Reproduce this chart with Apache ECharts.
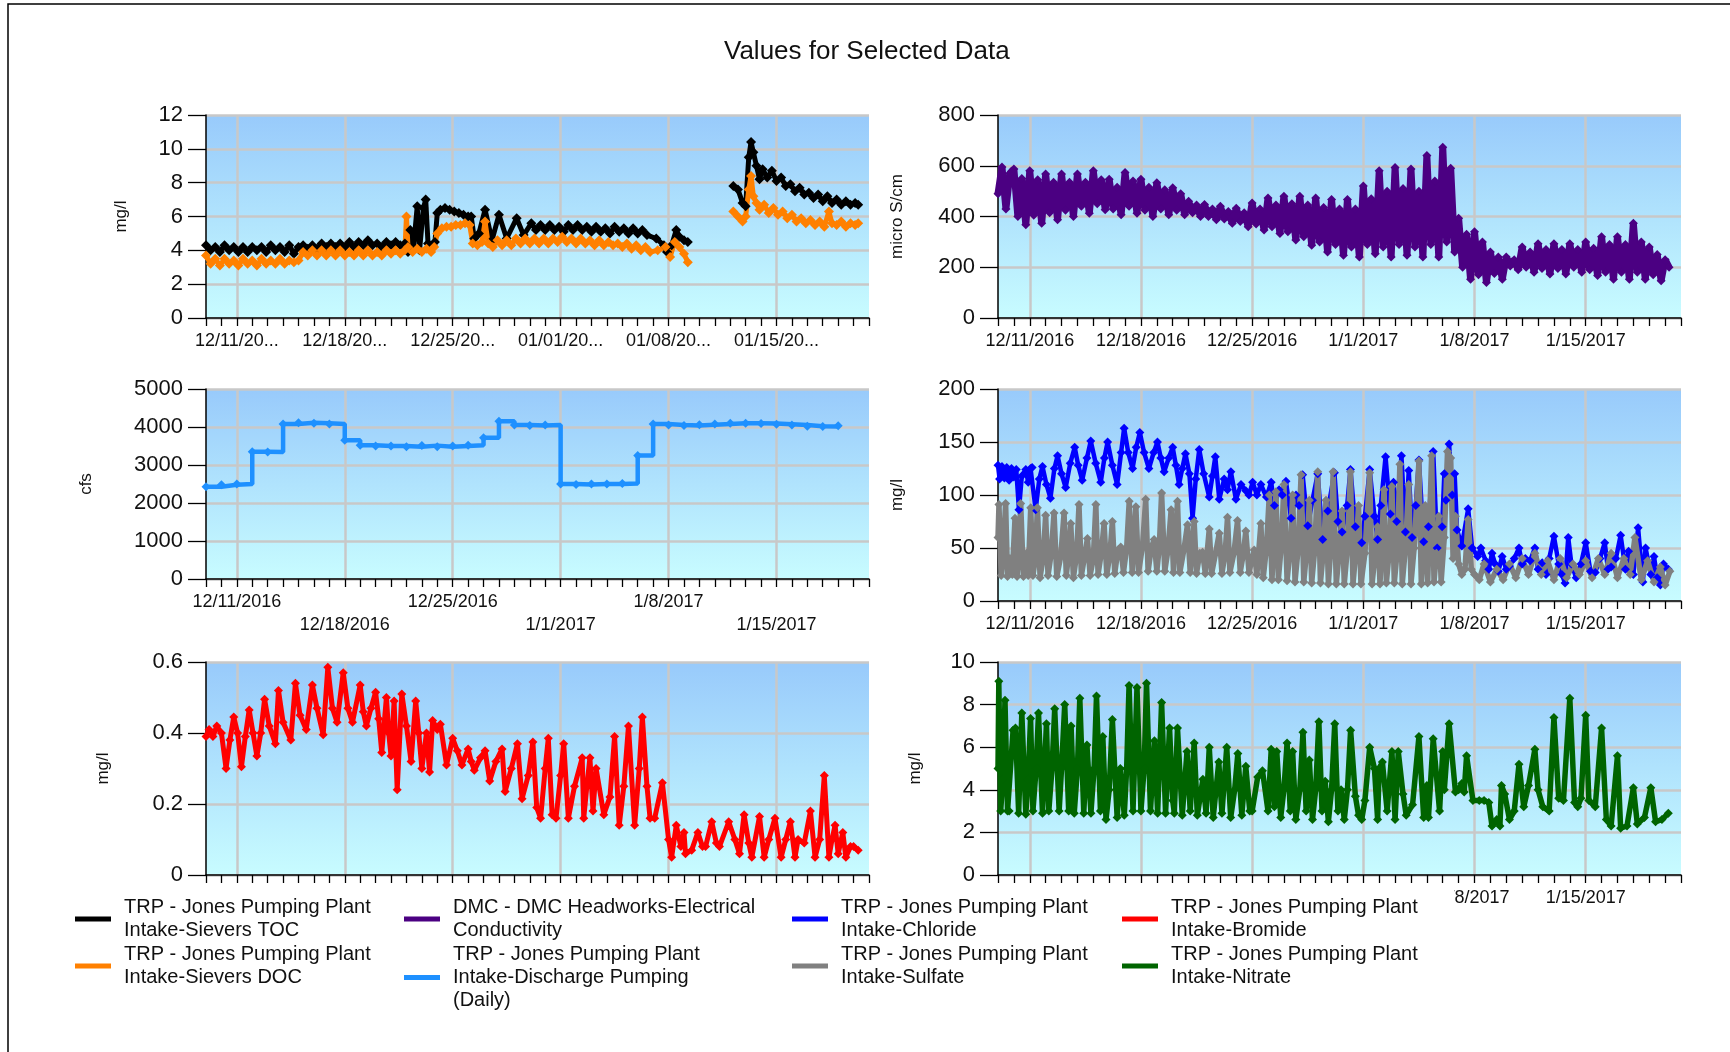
<!DOCTYPE html>
<html><head><meta charset="utf-8">
<script src="https://cdn.jsdelivr.net/npm/echarts@6/dist/echarts.min.js"></script>
<style>html,body{margin:0;padding:0;background:#fff}#c{width:1730px;height:1052px}</style>
</head><body><div id="c"></div><script>
// x values are days since 12/9/2016 00:00
const weekTicks = [2, 9, 16, 23, 30, 37];
const weekLabels = ['12/11/2016','12/18/2016','12/25/2016','1/1/2017','1/8/2017','1/15/2017'];
const weekLabelsShort = ['12/11/20...','12/18/20...','12/25/20...','01/01/20...','01/08/20...','01/15/20...'];

const nameTOC = 'TRP - Jones Pumping Plant\nIntake-Sievers TOC';
const nameDOC = 'TRP - Jones Pumping Plant\nIntake-Sievers DOC';
const nameEC  = 'DMC - DMC Headworks-Electrical\nConductivity';
const nameCFS = 'TRP - Jones Pumping Plant\nIntake-Discharge Pumping\n(Daily)';
const nameCL  = 'TRP - Jones Pumping Plant\nIntake-Chloride';
const nameSO4 = 'TRP - Jones Pumping Plant\nIntake-Sulfate';
const nameBR  = 'TRP - Jones Pumping Plant\nIntake-Bromide';
const nameNO3 = 'TRP - Jones Pumping Plant\nIntake-Nitrate';

const tocData = [[0,4.3],[0.3,4.0],[0.6,4.2],[0.9,3.9],[1.2,4.3],[1.5,4.0],[1.8,4.2],[2.1,3.9],[2.4,4.2],[2.7,3.9],[3.0,4.2],[3.3,4.0],[3.6,4.2],[3.9,3.9],[4.2,4.3],[4.5,4.0],[4.8,4.2],[5.1,3.9],[5.4,4.3],[5.7,3.8],[6.0,4.2],
[6.3,4.3],[6.6,4.1],[6.9,4.3],[7.2,4.1],[7.5,4.4],[7.8,4.2],[8.1,4.4],[8.4,4.2],[8.7,4.4],[9.0,4.2],[9.3,4.5],[9.6,4.2],[9.9,4.5],[10.2,4.3],[10.5,4.6],[10.8,4.3],[11.1,4.4],[11.4,4.2],[11.7,4.5],[12.0,4.3],[12.3,4.5],[12.6,4.3],
[12.9,4.4],[13.1,3.9],[13.25,5.2],[13.45,4.1],[13.7,6.6],[13.85,4.0],[14.1,6.5],[14.25,7.0],[14.4,4.4],[14.7,4.3],[14.85,4.5],[15.0,6.2],[15.2,6.4],[15.5,6.5],[15.8,6.4],[16.1,6.3],[16.4,6.2],[16.7,6.1],[17.0,6.0],[17.2,6.0],
[17.4,4.7],[17.7,5.0],[18.1,6.4],[18.55,4.6],[19.0,6.1],[19.5,4.7],[20.15,5.9],[20.6,4.9],[21.1,5.6],
[21.4,5.2],[21.7,5.5],[22.0,5.2],[22.3,5.5],[22.6,5.2],[22.9,5.4],[23.2,5.1],[23.5,5.5],[23.8,5.2],[24.1,5.5],[24.4,5.2],[24.7,5.4],[25.0,5.1],[25.3,5.4],[25.6,5.1],[25.9,5.3],[26.2,5.0],[26.5,5.4],[26.8,5.1],[27.1,5.3],[27.4,5.0],[27.7,5.3],[28.0,5.0],[28.3,5.2],[28.6,4.9],
[29.2,4.7],[29.7,4.3],[29.9,3.9],[30.2,4.3],[30.5,5.2],[30.7,4.8],[31.0,4.6],[31.25,4.5],[32.5,'-'],
[34.2,7.8],[34.5,7.6],[34.8,6.8],[35.0,6.6],[35.2,9.5],[35.35,10.4],[35.5,9.8],[35.7,9.0],[35.9,8.2],[36.1,8.8],[36.4,8.3],[36.7,8.7],[37.0,8.1],[37.3,8.3],[37.6,7.8],[37.9,7.9],[38.2,7.5],[38.5,7.7],[38.8,7.3],[39.1,7.4],[39.4,7.1],[39.7,7.3],[40.0,6.9],[40.3,7.2],[40.6,6.8],[40.9,7.0],[41.2,6.7],[41.5,6.9],[41.8,6.7],[42.1,6.8],[42.3,6.7]];

const docData = [[0,3.7],[0.3,3.2],[0.6,3.5],[0.9,3.1],[1.2,3.5],[1.5,3.2],[1.8,3.4],[2.1,3.1],[2.4,3.5],[2.7,3.2],[3.0,3.4],[3.3,3.1],[3.6,3.5],[3.9,3.2],[4.2,3.4],[4.5,3.2],[4.8,3.5],[5.1,3.2],[5.4,3.4],[5.7,3.3],[6.0,3.4],
[6.3,3.9],[6.6,3.7],[6.9,4.0],[7.2,3.7],[7.5,4.0],[7.8,3.7],[8.1,4.0],[8.4,3.7],[8.7,4.0],[9.0,3.7],[9.3,3.9],[9.6,3.7],[9.9,4.0],[10.2,3.7],[10.5,4.0],[10.8,3.7],[11.1,3.9],[11.4,3.7],[11.7,4.0],[12.0,3.8],[12.3,4.0],[12.6,3.8],
[12.9,4.0],[13.0,6.0],[13.1,4.2],[13.4,3.9],[13.7,4.1],[14.0,3.9],[14.3,4.1],[14.6,3.9],[14.8,4.2],[15.0,5.0],[15.3,5.3],[15.6,5.4],[15.9,5.4],[16.2,5.5],[16.5,5.5],[16.8,5.6],[17.1,5.5],
[17.3,4.4],[17.6,4.3],[17.9,4.5],[18.1,5.7],[18.3,4.4],[18.6,4.2],[18.9,4.6],[19.2,4.3],[19.5,4.6],[19.8,4.3],[20.1,4.7],[20.4,4.4],[20.7,4.7],[21.0,4.4],[21.3,4.7],[21.6,4.4],[21.9,4.7],[22.2,4.4],[22.5,4.7],[22.8,4.5],[23.1,4.8],[23.4,4.5],[23.7,4.7],[24.0,4.4],[24.3,4.7],[24.6,4.4],[24.9,4.6],[25.2,4.3],[25.5,4.6],[25.8,4.3],[26.1,4.5],[26.4,4.3],[26.7,4.4],[27.0,4.2],[27.3,4.4],[27.6,4.1],[27.9,4.3],[28.2,4.0],[28.5,4.2],[28.8,3.9],
[29.3,4.0],[29.8,4.2],[30.1,3.6],[30.4,4.5],[30.7,4.2],[31.0,3.8],[31.25,3.3],[32.5,'-'],
[34.2,6.3],[34.5,6.0],[34.8,5.7],[35.0,6.0],[35.2,7.6],[35.35,8.4],[35.5,7.2],[35.7,6.8],[35.9,6.4],[36.2,6.7],[36.5,6.2],[36.8,6.5],[37.1,6.1],[37.4,6.3],[37.7,5.9],[38.0,6.1],[38.3,5.7],[38.6,5.9],[38.9,5.6],[39.2,5.8],[39.5,5.5],[39.8,5.7],[40.1,5.4],[40.4,6.3],[40.6,5.6],[40.9,5.5],[41.2,5.7],[41.5,5.4],[41.8,5.6],[42.1,5.5],[42.3,5.6]];

// electrical conductivity, one reading every 6 hours from day 0
const ecVals = [490,595,430,570, 587,400,550,367, 580,405,545,373, 567,415,535,387, 567,425,535,400,
567,440,535,413, 580,450,545,427, 547,430,515,407, 573,440,540,413, 547,425,515,400,
533,430,505,407, 513,425,490,407, 460,415,445,400, 447,400,430,387, 440,390,420,373,
433,380,415,360, 453,370,430,347, 473,360,445,333, 480,340,450,307, 480,320,445,287,
473,300,435,260, 467,290,430,247, 467,280,430,240, 520,290,470,253, 580,280,500,240,
593,290,510,247, 587,280,500,240, 640,290,540,240, 673,300,590,260, 393,200,330,153,
340,170,300,140, 260,175,240,153, 240,205,230,190, 280,200,260,180, 293,195,270,173,
293,195,270,173, 293,200,270,180, 300,190,275,167, 320,180,290,153, 320,180,290,153,
373,180,300,153, 280,170,250,147, 230,200];

// daily discharge pumping, one value per day from day 0
const cfsVals = [2430,2480,2500,3350,3340,4080,4110,4100,4080,3650,3520,3500,3500,3480,3510,3480,3500,3520,3720,4150,
4050,4040,4050,2500,2490,2500,2500,2510,3250,4080,4050,4040,4060,4080,4100,4100,4090,4070,4050,4020,4010,4030];

const clData = [[0,128],[0.1,115],[0.25,127],[0.4,116],[0.55,126],[0.7,114],[0.85,125],[1.0,117],[1.15,124],[1.32,86],[1.5,118],[1.75,124],[1.9,112],[2.05,125],[2.15,126],[2.37,86],[2.6,115],[2.8,127],[3.05,110],[3.3,97],[3.55,125],[3.75,137],[4.0,120],[4.26,107],[4.55,130],[4.83,145],[5.05,128],[5.3,114],[5.6,135],[5.84,151],[6.15,130],[6.47,112],[6.7,135],[6.9,150],[7.2,128],[7.5,110],[7.75,140],[7.94,163],[8.2,140],[8.47,125],[8.7,145],[8.93,159],[9.2,140],[9.5,125],[9.8,140],[10.04,150],[10.25,135],[10.46,122],[10.75,135],[11.0,145],[11.2,128],[11.4,110],[11.6,125],[11.8,139],[12.05,120],[12.25,78],[12.45,115],[12.67,143],[12.95,120],[13.3,98],[13.5,118],[13.68,136],[13.93,96],[14.24,115],[14.45,105],[14.66,122],[14.98,96],[15.3,110],[15.6,104],[15.8,100],[16.03,112],[16.3,100],[16.55,110],[16.9,98],[17.2,112],[17.4,90],[17.7,105],[17.9,100],[18.13,113],[18.45,78],[18.76,100],[18.95,90],[19.18,119],[19.5,71],[19.8,95],[20.13,120],[20.44,58],[20.76,85],[21.18,121],[21.4,75],[21.66,65],[21.98,90],[22.19,124],[22.5,70],[22.9,55],[23.1,80],[23.4,124],[23.7,80],[23.9,58],[24.1,90],[24.4,136],[24.7,82],[24.9,112],[25.1,75],[25.4,137],[25.65,65],[25.86,123],[26.07,60],[26.3,90],[26.5,133],[26.8,56],[27.1,70],[27.4,141],[27.65,50],[27.96,70],[28.1,120],[28.2,95],[28.4,148],[28.6,100],[28.75,120],[28.9,67],[29.2,52],[29.6,87],[29.85,50],[30.2,42],[30.4,50],[30.7,38],[30.9,30],[31.1,45],[31.3,35],[31.5,28],[31.74,42],[32.0,30],[32.2,33],[32.5,40],[32.8,50],[33.0,35],[33.2,40],[33.5,38],[33.8,50],[34.0,30],[34.26,36],[34.5,25],[34.7,40],[35.0,61],[35.3,35],[35.5,25],[35.7,17],[35.9,60],[36.1,35],[36.4,22],[36.7,35],[37.0,55],[37.3,28],[37.6,27],[37.9,40],[38.2,55],[38.4,30],[38.6,32],[38.9,40],[39.2,62],[39.5,30],[39.7,47],[40.0,25],[40.3,69],[40.6,18],[40.77,50],[41.1,25],[41.3,42],[41.5,22],[41.7,15],[41.9,35],[42.2,30]];

const so4Data = [[0,60],[0.06,91],[0.2,24],[0.33,45],[0.48,92],[0.6,23],[0.75,40],[0.9,25],[1.07,78],[1.2,23],[1.3,42],[1.43,92],[1.6,23],[1.8,45],[1.9,24],[2.06,88],[2.2,24],[2.35,40],[2.48,88],[2.65,22],[2.85,42],[3.0,81],[3.15,24],[3.35,45],[3.53,83],[3.7,23],[3.95,42],[4.16,83],[4.3,24],[4.45,45],[4.58,73],[4.75,22],[4.95,44],[5.1,91],[5.25,24],[5.45,42],[5.63,59],[5.8,24],[6.0,40],[6.16,91],[6.3,25],[6.5,45],[6.68,73],[6.85,25],[7.05,45],[7.2,75],[7.35,26],[7.55,48],[7.73,51],[7.9,27],[8.1,50],[8.26,94],[8.45,27],[8.68,89],[8.85,27],[9.1,52],[9.3,96],[9.45,28],[9.65,50],[9.83,58],[10.0,28],[10.15,50],[10.3,102],[10.5,28],[10.7,48],[10.9,86],[11.05,27],[11.3,94],[11.45,27],[11.7,48],[11.93,72],[12.1,27],[12.35,75],[12.5,26],[12.7,45],[12.88,46],[13.05,26],[13.3,68],[13.45,26],[13.7,45],[13.93,64],[14.1,26],[14.3,45],[14.45,79],[14.6,27],[14.85,45],[15.08,76],[15.25,27],[15.45,45],[15.6,66],[15.8,27],[16.0,40],[16.13,48],[16.3,25],[16.55,73],[16.7,22],[16.9,50],[17.08,100],[17.25,20],[17.5,103],[17.65,20],[17.85,55],[18.0,110],[18.2,19],[18.4,50],[18.55,100],[18.7,18],[18.9,50],[19.08,119],[19.25,18],[19.45,50],[19.6,95],[19.75,17],[19.95,50],[20.13,122],[20.3,17],[20.5,50],[20.65,95],[20.8,16],[20.95,50],[21.1,122],[21.3,16],[21.5,50],[21.66,85],[21.8,16],[22.0,50],[22.19,122],[22.35,16],[22.55,50],[22.7,90],[22.85,16],[23.1,45],[23.4,121],[23.55,16],[23.75,45],[23.9,70],[24.05,16],[24.3,105],[24.45,17],[24.65,50],[24.8,108],[24.95,17],[25.15,50],[25.3,129],[25.45,16],[25.65,50],[25.86,110],[26.0,16],[26.2,50],[26.5,132],[26.65,16],[26.75,45],[26.9,90],[27.05,17],[27.3,137],[27.45,18],[27.6,45],[27.75,80],[27.9,18],[28.1,60],[28.3,141],[28.5,135],[28.65,40],[28.8,80],[29.0,35],[29.2,25],[29.4,30],[29.6,77],[29.8,30],[30.0,25],[30.3,20],[30.6,35],[31.0,18],[31.4,30],[31.8,20],[32.2,35],[32.6,22],[33.0,40],[33.4,25],[33.8,45],[34.2,25],[34.6,38],[35.0,20],[35.4,40],[35.8,22],[36.2,35],[36.6,25],[37.0,38],[37.4,22],[37.8,40],[38.2,25],[38.6,45],[39.0,22],[39.4,40],[39.8,25],[40.1,60],[40.5,20],[40.9,38],[41.3,18],[41.7,32],[42.0,15],[42.3,28]];

const brData = [[0,0.39],[0.2,0.41],[0.45,0.39],[0.7,0.42],[1.0,0.40],[1.3,0.30],[1.55,0.38],[1.8,0.445],[2.05,0.40],[2.3,0.305],[2.55,0.39],[2.8,0.465],[3.05,0.40],[3.3,0.335],[3.55,0.40],[3.8,0.495],[4.1,0.42],[4.5,0.37],[4.7,0.52],[5.0,0.43],[5.5,0.38],[5.8,0.54],[6.1,0.45],[6.5,0.41],[6.9,0.535],[7.2,0.47],[7.6,0.395],[7.9,0.585],[8.2,0.47],[8.5,0.43],[8.9,0.57],[9.2,0.47],[9.5,0.43],[10.0,0.535],[10.2,0.46],[10.4,0.42],[10.7,0.47],[11.0,0.515],[11.2,0.44],[11.4,0.345],[11.7,0.50],[11.85,0.40],[12.0,0.335],[12.2,0.49],[12.4,0.24],[12.7,0.51],[13.0,0.42],[13.3,0.32],[13.6,0.49],[13.8,0.40],[14.0,0.30],[14.3,0.40],[14.5,0.29],[14.7,0.435],[15.0,0.41],[15.2,0.425],[15.6,0.31],[16.0,0.385],[16.3,0.35],[16.6,0.31],[17.0,0.355],[17.2,0.32],[17.4,0.295],[17.8,0.33],[18.1,0.35],[18.4,0.265],[18.8,0.32],[19.2,0.355],[19.4,0.235],[19.8,0.30],[20.2,0.37],[20.5,0.215],[20.9,0.28],[21.2,0.375],[21.45,0.19],[21.7,0.16],[22.0,0.30],[22.2,0.385],[22.45,0.17],[22.7,0.16],[23.0,0.28],[23.2,0.37],[23.5,0.16],[23.9,0.25],[24.4,0.33],[24.5,0.16],[24.7,0.25],[24.9,0.33],[25.1,0.18],[25.3,0.30],[25.8,0.17],[26.2,0.22],[26.5,0.39],[26.8,0.14],[27.1,0.25],[27.4,0.42],[27.8,0.14],[28.1,0.30],[28.3,0.445],[28.6,0.25],[28.8,0.16],[29.1,0.16],[29.6,0.26],[30.0,0.10],[30.2,0.05],[30.5,0.14],[30.8,0.08],[31.0,0.12],[31.1,0.06],[31.5,0.07],[31.9,0.12],[32.2,0.08],[32.4,0.08],[32.8,0.15],[33.1,0.09],[33.3,0.08],[33.9,0.15],[34.3,0.10],[34.6,0.06],[34.9,0.17],[35.2,0.09],[35.4,0.05],[35.9,0.165],[36.2,0.05],[36.5,0.10],[36.9,0.16],[37.3,0.05],[37.6,0.10],[37.9,0.15],[38.2,0.05],[38.4,0.10],[38.8,0.09],[39.2,0.18],[39.5,0.05],[39.8,0.10],[40.1,0.28],[40.4,0.05],[40.6,0.10],[40.8,0.14],[41.0,0.06],[41.3,0.12],[41.5,0.05],[41.8,0.08],[42.0,0.08],[42.3,0.07]];

const no3Data = [[0,5.0],[0.05,9.1],[0.17,3.0],[0.3,4.5],[0.44,8.2],[0.6,3.0],[0.7,3.0],[0.95,6.8],[1.1,6.9],[1.3,2.9],[1.5,7.6],[1.75,2.85],[1.9,4.5],[2.05,7.35],[2.2,3.0],[2.4,5.0],[2.55,7.6],[2.8,2.9],[3.05,7.1],[3.2,3.0],[3.4,5.0],[3.57,7.8],[3.85,3.0],[4.0,5.0],[4.2,8.0],[4.45,3.0],[4.6,7.0],[4.8,2.9],[5.0,5.0],[5.15,8.3],[5.4,2.9],[5.6,6.1],[5.85,2.9],[6.05,5.0],[6.2,8.4],[6.45,3.0],[6.6,6.5],[6.8,2.6],[7.0,4.0],[7.2,7.3],[7.5,2.7],[7.7,5.0],[7.95,2.8],[8.1,5.0],[8.25,8.9],[8.5,3.0],[8.75,8.8],[9.0,3.0],[9.2,5.0],[9.35,9.0],[9.6,3.0],[9.85,6.3],[10.05,2.9],[10.3,8.1],[10.55,2.9],[10.8,6.9],[11.0,3.5],[11.1,2.9],[11.3,6.9],[11.6,2.8],[11.9,5.8],[12.1,3.0],[12.35,6.2],[12.55,2.8],[12.9,4.5],[13.1,2.9],[13.3,6.0],[13.55,2.7],[13.9,5.3],[14.1,2.9],[14.4,6.0],[14.65,2.7],[14.9,4.0],[15.1,5.7],[15.35,2.8],[15.6,5.1],[15.85,3.0],[16.0,3.0],[16.35,4.6],[16.65,4.9],[17.0,3.0],[17.2,5.9],[17.4,3.2],[17.55,5.8],[17.8,2.7],[18.0,4.0],[18.2,6.2],[18.4,3.0],[18.55,5.8],[18.75,2.6],[19.0,4.0],[19.2,6.7],[19.4,3.0],[19.6,5.4],[19.8,2.6],[20.0,4.0],[20.2,7.2],[20.4,3.0],[20.6,4.4],[20.8,2.5],[21.0,4.0],[21.2,7.1],[21.4,3.0],[21.6,4.0],[21.8,2.6],[22.0,4.0],[22.2,6.8],[22.5,3.7],[22.7,2.8],[22.9,2.6],[23.1,3.5],[23.4,6.0],[23.7,5.0],[23.9,2.6],[24.0,5.0],[24.2,5.3],[24.5,3.0],[24.8,5.8],[25.0,2.6],[25.2,5.8],[25.5,3.8],[25.7,2.8],[26.1,3.3],[26.5,6.5],[26.8,2.7],[27.0,4.2],[27.1,2.7],[27.4,6.4],[27.8,3.0],[28.0,5.8],[28.1,4.0],[28.4,7.1],[28.8,3.9],[29.0,4.0],[29.2,4.3],[29.35,3.9],[29.5,5.6],[29.9,3.5],[30.3,3.5],[30.6,3.5],[30.9,3.4],[31.1,2.3],[31.4,2.6],[31.6,2.3],[31.7,4.2],[31.9,3.8],[32.2,2.6],[32.5,3.0],[32.8,5.2],[33.1,3.2],[33.4,4.2],[33.8,5.9],[34.0,4.0],[34.3,3.2],[34.7,3.0],[35.0,7.4],[35.3,3.6],[35.6,3.5],[36.0,8.3],[36.3,3.4],[36.5,3.2],[36.7,3.6],[37.0,7.5],[37.2,3.5],[37.6,3.2],[38.0,6.9],[38.3,2.6],[38.6,2.3],[39.0,5.6],[39.2,2.2],[39.6,2.3],[40.0,4.1],[40.25,2.4],[40.7,2.7],[41.1,4.1],[41.4,2.5],[41.8,2.6],[42.2,2.9]];

const FONT = 'Liberation Sans, Arial, sans-serif';
const gridBg = {type:'linear', x:0, y:0, x2:0, y2:1, colorStops:[{offset:0, color:'#98CAFB'},{offset:1, color:'#C8FCFF'}]};
const gridBoxes = [
  {left:206, top:115, width:663, height:203},
  {left:998, top:115, width:683, height:203},
  {left:206, top:389, width:663, height:190},
  {left:998, top:389, width:683, height:212},
  {left:206, top:662, width:663, height:213},
  {left:998, top:662, width:683, height:213}
];
const yDefs = [
  {max:12, interval:2, name:'mg/l', gap:76},
  {max:800, interval:200, name:'micro S/cm', gap:92},
  {max:5000, interval:1000, name:'cfs', gap:111},
  {max:200, interval:50, name:'mg/l', gap:92},
  {max:0.6, interval:0.2, name:'mg/l', gap:94},
  {max:10, interval:2, name:'mg/l', gap:74}
];
const labelMode = ['short','long','stagger','long','none','long'];

function weekFmt(mode){
  return function(v){
    const i = weekTicks.indexOf(Math.round(v));
    if (i < 0) return '';
    if (mode === 'short') return weekLabelsShort[i];
    if (mode === 'stagger') return (i % 2 === 1 ? '\n' : '') + weekLabels[i];
    return weekLabels[i];
  };
}
function yFmt(v){ return String(Math.round(v * 1000) / 1000); }

const grid = gridBoxes.map(g => Object.assign({show:true, backgroundColor:gridBg, borderWidth:0, containLabel:false}, g));
const xAxis = [];
const yAxis = [];
gridBoxes.forEach((g, i) => {
  xAxis.push({
    type:'value', gridIndex:i, min:0, max:43, interval:1, position:'bottom',
    axisLine:{show:true, onZero:false, lineStyle:{color:'#000', width:1.5}},
    axisTick:{show:true, inside:false, length:8, lineStyle:{color:'#000', width:1.3}},
    axisLabel:{show:false}, splitLine:{show:false}
  });
  xAxis.push({
    type:'value', gridIndex:i, min:0, max:43, position:'bottom',
    axisLine:{show:false},
    axisTick:{show:false, customValues:weekTicks},
    axisLabel:{show: labelMode[i] !== 'none', customValues:weekTicks, formatter:weekFmt(labelMode[i]),
      margin:12, fontSize:18, lineHeight:23, color:'#111', fontFamily:FONT, verticalAlign:'top'},
    splitLine:{show:true, lineStyle:{color:'#C8C8C8', width:2.5}}
  });
  const d = yDefs[i];
  yAxis.push({
    type:'value', gridIndex:i, min:0, max:d.max, interval:d.interval, position:'left',
    name:d.name, nameLocation:'middle', nameRotate:90, nameGap:d.gap,
    nameTextStyle:{fontSize:17, color:'#111', fontFamily:FONT},
    axisLine:{show:true, lineStyle:{color:'#000', width:1.5}},
    axisTick:{show:true, inside:false, length:18, lineStyle:{color:'#000', width:1.3}},
    axisLabel:{margin:23, fontSize:22, color:'#111', fontFamily:FONT, formatter:yFmt},
    splitLine:{show:true, lineStyle:{color:'#C8C8C8', width:2.5}}
  });
});

function lineSeries(name, gi, color, data, width, size, extra){
  return Object.assign({
    name, type:'line', xAxisIndex:gi*2, yAxisIndex:gi, data,
    symbol:'diamond', symbolSize:size, showSymbol:true,
    lineStyle:{color, width}, itemStyle:{color},
    emphasis:{disabled:true}, animation:false, connectNulls:false
  }, extra || {});
}

const series = [
  lineSeries(nameTOC, 0, '#000000', tocData, 5, 10),
  lineSeries(nameDOC, 0, '#FF8000', docData, 5, 10),
  lineSeries(nameEC, 1, '#4B0082', ecVals.map((v, i) => [i * 0.25, v]), 7, 9),
  lineSeries(nameCFS, 2, '#1E90FF', cfsVals.map((v, i) => [i, v]), 4.5, 9, {step:'end'}),
  lineSeries(nameCL, 3, '#0000FF', clData, 4.5, 9),
  lineSeries(nameSO4, 3, '#808080', so4Data, 5.5, 9),
  lineSeries(nameBR, 4, '#FF0000', brData, 5, 9),
  lineSeries(nameNO3, 5, '#006400', no3Data, 5.5, 9)
];

function legendCol(left, names){
  return {
    orient:'vertical', left, top:896, itemGap:1, itemWidth:36, itemHeight:5, icon:'rect',
    padding:0, z:100, selectedMode:false, data:names,
    textStyle:{fontSize:20, lineHeight:23, color:'#111', fontFamily:FONT, padding:[0,0,0,8]}
  };
}

const option = {
  animation:false,
  backgroundColor:'#ffffff',
  textStyle:{fontFamily:FONT},
  title:{text:'Values for Selected Data', left:724, top:39, padding:0,
    textStyle:{fontSize:26, fontWeight:'normal', color:'#111', fontFamily:FONT}},
  grid, xAxis, yAxis, series,
  legend:[
    legendCol(75, [nameTOC, nameDOC]),
    legendCol(404, [nameEC, nameCFS]),
    legendCol(792, [nameCL, nameSO4]),
    legendCol(1122, [nameBR, nameNO3])
  ],
  graphic:[
    {type:'rect', silent:true, z:1, shape:{x:8, y:4, width:1800, height:1100}, style:{fill:'none', stroke:'#000', lineWidth:1.5}},
    {type:'rect', silent:true, z:50, shape:{x:60, y:886, width:1394, height:160}, style:{fill:'#ffffff'}}
  ]
};

const chart = echarts.init(document.getElementById('c'), null, {renderer:'canvas'});
chart.setOption(option);
</script></body></html>
